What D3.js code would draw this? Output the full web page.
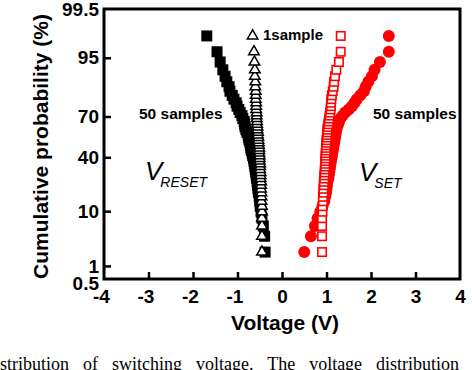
<!DOCTYPE html>
<html lang="en">
<head>
    <meta charset="UTF-8">
    <title>Cumulative probability of switching voltage</title>
    <script src="https://d3js.org/d3.v7.min.js"></script>
    <style>
        body { margin: 0; background: #fff; }
        svg { display: block; font-family: "Liberation Sans", Arial, sans-serif; }
        .axis text { font-size: 19px; font-weight: bold; fill: #000; }
        .axis line { stroke: #000; stroke-width: 2.5; }
        .label { font-weight: bold; fill: #000; }
    </style>
</head>
<body>
    <svg width="472" height="370"></svg>

    <script>
        // Switching voltages (V), sorted by rank (rank 1 = lowest cumulative probability)
        const resetMulti = [   // V_RESET, 50 samples (filled squares)
            -0.38, -0.39, -0.42, -0.45, -0.47, -0.49, -0.50, -0.51, -0.53, -0.54,
            -0.55, -0.56, -0.57, -0.58, -0.59, -0.60, -0.61, -0.62, -0.63, -0.64,
            -0.66, -0.67, -0.69, -0.70, -0.71, -0.72, -0.74, -0.75, -0.76, -0.79,
            -0.81, -0.83, -0.84, -0.85, -0.88, -0.90, -0.94, -0.97, -1.01, -1.03,
            -1.08, -1.12, -1.17, -1.19, -1.24, -1.28, -1.33, -1.39, -1.46, -1.69
        ];
        const resetSingle = [  // V_RESET, 1 sample (open triangles)
            -0.45, -0.45, -0.45, -0.45, -0.45, -0.45, -0.46, -0.46, -0.46, -0.47,
            -0.47, -0.47, -0.48, -0.48, -0.48, -0.49, -0.49, -0.49, -0.50, -0.50,
            -0.50, -0.51, -0.51, -0.51, -0.52, -0.52, -0.53, -0.53, -0.54, -0.54,
            -0.55, -0.55, -0.56, -0.56, -0.57, -0.57, -0.57, -0.58, -0.58, -0.58,
            -0.59, -0.59, -0.59, -0.60, -0.60, -0.61, -0.61, -0.62, -0.63, -0.66
        ];
        const setSingle = [    // V_SET, 1 sample (open squares)
            0.90, 0.90, 0.90, 0.90, 0.91, 0.91, 0.92, 0.92, 0.93, 0.93,
            0.94, 0.94, 0.95, 0.95, 0.96, 0.96, 0.97, 0.97, 0.97, 0.98,
            0.98, 0.98, 0.99, 0.99, 0.99, 1.00, 1.00, 1.01, 1.01, 1.02,
            1.02, 1.03, 1.04, 1.05, 1.06, 1.07, 1.08, 1.09, 1.10, 1.10,
            1.11, 1.12, 1.14, 1.16, 1.17, 1.19, 1.22, 1.28, 1.32, 1.32
        ];
        const setMulti = [     // V_SET, 50 samples (filled circles)
            0.50, 0.65, 0.74, 0.80, 0.86, 0.91, 0.95, 0.97, 0.99, 1.00,
            1.01, 1.02, 1.04, 1.05, 1.06, 1.07, 1.08, 1.09, 1.10, 1.11,
            1.12, 1.13, 1.14, 1.15, 1.16, 1.17, 1.18, 1.19, 1.20, 1.21,
            1.22, 1.24, 1.26, 1.28, 1.31, 1.36, 1.42, 1.50, 1.57, 1.63,
            1.68, 1.76, 1.84, 1.88, 1.94, 2.02, 2.08, 2.20, 2.40, 2.40
        ];

        const xTicks = [-4, -3, -2, -1, 0, 1, 2, 3, 4];
        const yTicks = [0.5, 1, 10, 40, 70, 95, 99.5];
        const yTickLabels = ["0.5", "1", "10", "40", "70", "95", "99.5"];

        // inverse normal CDF (Acklam) for the probability axis
        function probit(p) {
            const a = [-39.69683028665376, 220.9460984245205, -275.9285104469687, 138.3577518672690, -30.66479806614716, 2.506628277459239];
            const b = [-54.47609879822406, 161.5858368580409, -155.6989798598866, 66.80131188771972, -13.28068155288572];
            const c = [-0.007784894002430293, -0.3223964580411365, -2.400758277161838, -2.549732539343734, 4.374664141464968, 2.938163982698783];
            const d = [0.007784695709041462, 0.3224671290700398, 2.445134137142996, 3.754408661907416];
            const lo = 0.02425;
            let q, r;
            if (p < lo) {
                q = Math.sqrt(-2 * Math.log(p));
                return (((((c[0]*q+c[1])*q+c[2])*q+c[3])*q+c[4])*q+c[5]) / ((((d[0]*q+d[1])*q+d[2])*q+d[3])*q+1);
            }
            if (p > 1 - lo) {
                q = Math.sqrt(-2 * Math.log(1 - p));
                return -(((((c[0]*q+c[1])*q+c[2])*q+c[3])*q+c[4])*q+c[5]) / ((((d[0]*q+d[1])*q+d[2])*q+d[3])*q+1);
            }
            q = p - 0.5; r = q * q;
            return (((((a[0]*r+a[1])*r+a[2])*r+a[3])*r+a[4])*r+a[5])*q / (((((b[0]*r+b[1])*r+b[2])*r+b[3])*r+b[4])*r+1);
        }

        // rank -> cumulative probability (%), plotting position i/(n+1)
        const cumulate = vals => vals.map((v, i) => ({ v: v, p: 100 * (i + 1) / (vals.length + 1) }));

        const svg = d3.select("svg");
        const margin = { top: 9, right: 12, bottom: 91, left: 104 };
        const W = 472, H = 370;

        const x = d3.scaleLinear().domain([-4, 4]).range([margin.left, W - margin.right]);
        const yz = d3.scaleLinear()
            .domain([probit(0.005), probit(0.995)])
            .range([H - margin.bottom, margin.top]);
        const y = p => yz(probit(p / 100));

        // axes (ticks point inward)
        const xAxis = svg.append("g")
            .attr("class", "axis")
            .attr("transform", `translate(0,${H - margin.bottom})`)
            .call(d3.axisBottom(x).tickValues(xTicks).tickFormat(d => String(d))
                .tickSizeInner(-7).tickSizeOuter(0).tickPadding(11));
        xAxis.select(".domain").remove();
        xAxis.selectAll(".tick").filter(d => d === -4 || d === 4).select("line").remove();
        xAxis.selectAll(".tick text").attr("dx", d => d < 0 ? -3 : 0);

        const yAxis = svg.append("g")
            .attr("class", "axis")
            .attr("transform", `translate(${margin.left},0)`)
            .call(d3.axisLeft(yz).tickValues(yTicks.map(p => probit(p / 100)))
                .tickFormat((d, i) => yTickLabels[i])
                .tickSizeInner(-7).tickSizeOuter(0).tickPadding(5));
        yAxis.select(".domain").remove();
        yAxis.selectAll(".tick").filter((d, i) => i === 0 || i === yTicks.length - 1).select("line").remove();
        yAxis.selectAll(".tick text").filter((d, i) => i === 0).attr("dy", "0.55em");

        // frame
        svg.append("rect")
            .attr("x", margin.left).attr("y", margin.top)
            .attr("width", W - margin.left - margin.right)
            .attr("height", H - margin.top - margin.bottom)
            .attr("fill", "none").attr("stroke", "#000").attr("stroke-width", 3);

        // RESET, 50 samples: filled black squares
        svg.append("g").selectAll("rect")
            .data(cumulate(resetMulti))
            .enter().append("rect")
            .attr("x", d => x(d.v) - 5.5).attr("y", d => y(d.p) - 5.5)
            .attr("width", 11).attr("height", 11)
            .attr("fill", "#000");

        // RESET, 1 sample: open triangles
        const tri = d3.symbol().type(d3.symbolTriangle).size(48);
        svg.append("g").selectAll("path")
            .data(cumulate(resetSingle))
            .enter().append("path")
            .attr("d", tri)
            .attr("transform", d => `translate(${x(d.v)},${y(d.p)})`)
            .attr("fill", "#fff").attr("stroke", "#000").attr("stroke-width", 1.5);

        // SET, 50 samples: filled red circles
        svg.append("g").selectAll("circle")
            .data(cumulate(setMulti))
            .enter().append("circle")
            .attr("cx", d => x(d.v)).attr("cy", d => y(d.p))
            .attr("r", 6)
            .attr("fill", "#ff0000");

        // SET, 1 sample: open red squares
        svg.append("g").selectAll("rect")
            .data(cumulate(setSingle))
            .enter().append("rect")
            .attr("x", d => x(d.v) - 4.2).attr("y", d => y(d.p) - 4.2)
            .attr("width", 8.4).attr("height", 8.4)
            .attr("fill", "#fff").attr("stroke", "#ff0000").attr("stroke-width", 1.6);

        // annotations
        svg.append("text").attr("class", "label")
            .attr("x", 139).attr("y", 119).attr("font-size", 15.5)
            .text("50 samples");
        svg.append("text").attr("class", "label")
            .attr("x", 373).attr("y", 119).attr("font-size", 15.5)
            .text("50 samples");
        svg.append("text").attr("class", "label")
            .attr("x", 263).attr("y", 39.5).attr("font-size", 15)
            .text("1sample");

        const vReset = svg.append("text")
            .attr("x", 145).attr("y", 180)
            .attr("font-style", "italic").attr("font-size", 26);
        vReset.append("tspan").text("V");
        vReset.append("tspan").attr("dx", -2).attr("dy", 7).attr("font-size", 14).text("RESET");

        const vSet = svg.append("text")
            .attr("x", 359).attr("y", 181)
            .attr("font-style", "italic").attr("font-size", 26);
        vSet.append("tspan").text("V");
        vSet.append("tspan").attr("dx", -2).attr("dy", 7).attr("font-size", 14).text("SET");

        // axis titles
        svg.append("text").attr("class", "label")
            .attr("transform", "translate(48,146.5) rotate(-90)")
            .attr("text-anchor", "middle").attr("font-size", 21)
            .text("Cumulative probability (%)");
        svg.append("text").attr("class", "label")
            .attr("x", (margin.left + W - margin.right) / 2 + 3).attr("y", 330)
            .attr("text-anchor", "middle").attr("font-size", 21)
            .text("Voltage (V)");

        // caption fragment cut off at the bottom edge
        svg.append("text")
            .attr("x", 0).attr("y", 370)
            .attr("font-family", "'Liberation Serif', 'Times New Roman', serif")
            .attr("font-size", 18).attr("word-spacing", 9.5)
            .text("stribution of switching voltage. The voltage distribution");
    </script>
</body>
</html>
